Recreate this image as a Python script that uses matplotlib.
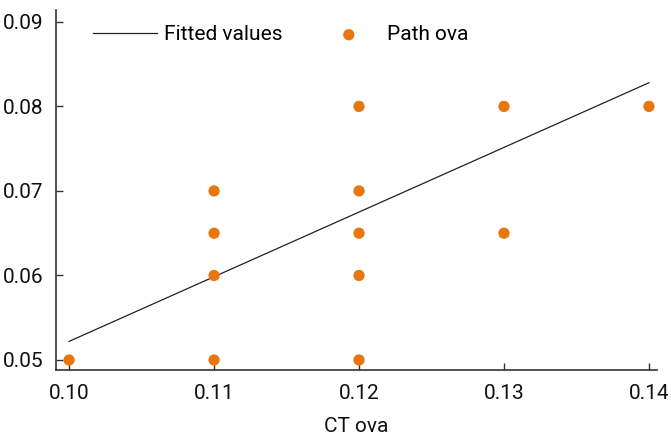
import matplotlib
matplotlib.use("Agg")
import matplotlib.pyplot as plt

# data
ct_ova = [0.10, 0.11, 0.11, 0.11, 0.11, 0.12, 0.12, 0.12, 0.12, 0.12, 0.13, 0.13, 0.14]
path_ova = [0.050, 0.050, 0.060, 0.065, 0.070, 0.050, 0.060, 0.065, 0.070, 0.080, 0.065, 0.080, 0.080]
fit_x = [0.10, 0.14]
fit_y = [0.0522, 0.0828]
x_ticks = [0.10, 0.11, 0.12, 0.13, 0.14]
y_ticks = [0.05, 0.06, 0.07, 0.08, 0.09]

plt.rcParams["font.family"] = ["Roboto", "DejaVu Sans"]

orange = "#E8760F"
dark = "#333333"
fs = 15

fig = plt.figure(figsize=(6.71, 4.37), dpi=100)
ax = fig.add_axes([0.0835, 0.153, 0.8955, 0.824])

ax.plot(fit_x, fit_y, color="#222222", linewidth=0.9, label="Fitted values")
ax.scatter(ct_ova, path_ova, s=66, color=orange, edgecolors="none", label="Path ova", zorder=3)

ax.set_xlim(0.0991, 0.14055)
ax.set_ylim(0.0488, 0.0914)
ax.set_xticks(x_ticks)
ax.set_yticks(y_ticks)
ax.set_xticklabels([f"{v:.2f}" for v in x_ticks])
ax.set_yticklabels([f"{v:.2f}" for v in y_ticks])
ax.tick_params(direction="in", length=5, width=1, color=dark, labelsize=fs, labelcolor="#111111")
ax.tick_params(axis="x", pad=10)
ax.tick_params(axis="y", pad=9)

for side in ["top", "right"]:
    ax.spines[side].set_visible(False)
for side in ["left", "bottom"]:
    ax.spines[side].set_color(dark)
    ax.spines[side].set_linewidth(1.2)

ax.set_xlabel("CT ova", fontsize=fs, color="#111111", labelpad=10)

# legend without frame, two columns across the top
ax.legend(loc="upper left", bbox_to_anchor=(0.030, 1.01), ncol=2, frameon=False,
          fontsize=fs, handlelength=3.1, columnspacing=1.65, handletextpad=0.3,
          markerscale=1.0)

fig.savefig("out.png", dpi=100)
